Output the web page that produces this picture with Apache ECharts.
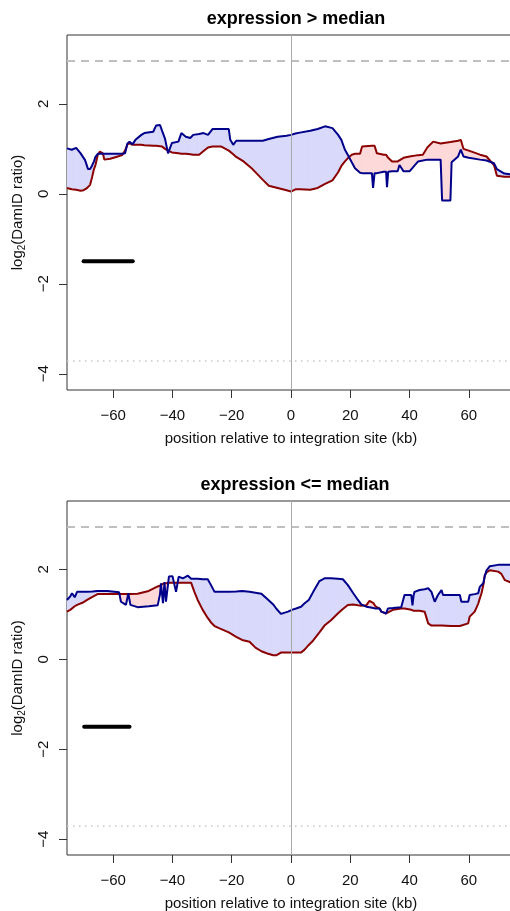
<!DOCTYPE html>
<html><head><meta charset="utf-8">
<script src="https://cdn.jsdelivr.net/npm/echarts@6/dist/echarts.min.js"></script>
<style>html,body{margin:0;padding:0;background:#fff}#c{width:510px;height:911px}</style>
</head><body><div id="c"></div>
<script>
// ---- data: top panel (expression > median) ----
const topPos = [-75.6,-74,-72.5,-71,-70,-69.5,-69,-68.5,-67.8,-67.2,-66.5,-66,-65.2,-64.5,-63.5,-63,-61,-59,-57,-56,-55.2,-54.5,-53.5,-52.5,-50.5,-49.5,-46.5,-45.5,-44.2,-43.5,-42.5,-41.5,-40.2,-38,-37,-35.5,-34,-33,-31,-29.5,-28,-26.5,-23.5,-21,-20.5,-19.5,-18.5,-16,-13,-9.5,-7.5,-4.5,-1.5,0,1.5,3,6.5,9,11.5,14,15.9,17,18.2,19.3,20.5,21.6,23.3,24,27.3,27.7,28.2,29,31.3,32.1,32.4,32.8,34.1,36,36.6,38,40,42.9,44.5,46,48,50.5,51,53.8,54.2,56.4,57.3,58.2,60,63.8,66,68.5,69.5,72,75.6];
const topBlue = [1.01,0.98,1.02,0.90,0.80,0.75,0.65,0.55,0.55,0.62,0.72,0.82,0.89,0.89,0.89,0.89,0.89,0.89,0.89,0.90,1.12,1.16,1.10,1.20,1.31,1.35,1.38,1.52,1.53,1.40,1.22,0.90,1.13,1.16,1.35,1.27,1.24,1.31,1.33,1.35,1.31,1.44,1.44,1.44,1.20,1.09,1.18,1.18,1.18,1.18,1.22,1.27,1.29,1.31,1.34,1.36,1.40,1.44,1.50,1.46,1.31,1.20,0.98,0.85,0.70,0.57,0.47,0.46,0.46,0.13,0.46,0.46,0.49,0.49,0.15,0.49,0.50,0.50,0.64,0.50,0.50,0.72,0.74,0.76,0.76,0.76,-0.15,-0.15,0.70,0.83,0.98,0.83,0.80,0.76,0.74,0.68,0.55,0.45,0.42];
const topRed = [0.13,0.10,0.09,0.07,0.08,0.10,0.12,0.15,0.20,0.35,0.55,0.64,0.87,0.94,0.90,0.76,0.78,0.82,0.86,0.96,1.10,1.12,1.09,1.09,1.09,1.08,1.07,1.07,1.06,1.05,1.00,0.96,0.92,0.90,0.89,0.89,0.88,0.87,0.87,0.95,1.03,1.05,1.05,0.96,0.93,0.88,0.82,0.72,0.55,0.31,0.18,0.13,0.08,0.05,0.10,0.10,0.09,0.13,0.22,0.30,0.48,0.62,0.72,0.80,0.87,0.89,0.89,1.05,1.07,1.07,1.07,0.90,0.87,0.87,0.85,0.80,0.72,0.72,0.72,0.80,0.83,0.86,0.87,1.03,1.16,1.12,1.14,1.15,1.15,1.18,1.20,1.00,0.96,0.87,0.83,0.64,0.40,0.38,0.38];

// ---- data: bottom panel (expression <= median) ----
const botPos = [-75.6,-74.5,-73.9,-73,-72.2,-70,-68.8,-67,-65.3,-62,-58,-57.4,-55.7,-54.9,-54.2,-51.8,-48,-45,-44.2,-43.9,-43.2,-42.7,-42.2,-41.2,-40,-38.8,-37.9,-36.5,-34.8,-33.7,-32.6,-31.5,-29.8,-28.1,-27,-25.8,-24.1,-21,-18.5,-16.5,-14,-12,-10,-8,-6,-5,-3.4,-1,0.3,1.7,3.4,4.5,6,7.5,9.6,11.3,13.5,15.8,17.5,19.2,20.9,22.6,23.7,25.4,26.5,27.8,28.5,29.9,30.5,32.1,32.7,34.4,37.2,38.3,40.6,41,41.4,41.7,43.4,45.1,46.3,47.4,48.5,49.6,50.8,51.3,54,57,57.5,59.8,60.3,62,63.2,63.7,64.3,64.9,65.4,66,67.1,69.9,71,72.2,74.5,75.6];
const botBlue = [1.32,1.40,1.47,1.38,1.50,1.50,1.50,1.51,1.52,1.52,1.49,1.28,1.21,1.47,1.21,1.16,1.18,1.20,1.45,1.69,1.25,1.72,1.28,1.84,1.85,1.50,1.84,1.80,1.86,1.79,1.79,1.79,1.78,1.78,1.65,1.50,1.50,1.50,1.51,1.52,1.50,1.48,1.46,1.34,1.22,1.13,1.01,1.06,1.10,1.13,1.17,1.24,1.32,1.50,1.74,1.80,1.80,1.79,1.78,1.65,1.48,1.32,1.22,1.17,1.16,1.14,1.13,1.13,1.06,1.02,1.13,1.14,1.16,1.43,1.43,1.20,1.43,1.50,1.54,1.56,1.58,1.50,1.28,1.43,1.54,1.43,1.43,1.43,1.28,1.28,1.43,1.45,1.47,1.61,1.65,1.69,1.85,1.98,2.07,2.10,2.10,2.10,2.10,2.10];
const botRed = [1.06,1.10,1.14,1.18,1.21,1.27,1.32,1.39,1.45,1.45,1.45,1.45,1.45,1.45,1.45,1.46,1.52,1.62,1.64,1.66,1.68,1.69,1.69,1.70,1.70,1.70,1.70,1.70,1.70,1.70,1.50,1.32,1.10,0.92,0.82,0.74,0.69,0.60,0.50,0.43,0.39,0.26,0.18,0.13,0.09,0.09,0.15,0.15,0.15,0.15,0.15,0.21,0.32,0.42,0.60,0.75,0.87,1.02,1.12,1.21,1.22,1.20,1.19,1.20,1.30,1.25,1.18,1.13,1.06,1.02,1.03,1.10,1.13,1.13,1.10,1.12,1.08,1.12,1.08,1.06,0.80,0.75,0.75,0.75,0.75,0.75,0.74,0.74,0.74,0.80,0.95,1.06,1.24,1.35,1.47,1.65,1.87,1.93,1.98,1.95,1.90,1.76,1.70,1.70];

// ---- reference lines / bars / ticks ----
const titles = ['expression > median', 'expression <= median'];
const upperRef = [2.96, 2.94];
const lowerRef = [-3.70, -3.70];
const barStart = [-70.0, -69.8];
const barEnd = [-53.4, -54.5];
const barLevel = [-1.5, -1.5];
const xTicks = [-60, -40, -20, 0, 20, 40, 60];
const yTicks = [-4, -2, 0, 2];
const xRange = [-75.6, 75.6];
const yRanges = [[-4.36, 3.53], [-4.35, 3.52]];

const FONT = "'Liberation Sans', Arial, Helvetica, sans-serif";
const BLUE = '#00008b', RED = '#8b0000';
const BLUE_FILL = '#d9d9fb', RED_FILL = '#fdd9d9';
const AX = '#333333';
const fmt = v => String(v).replace('-', '\u2212');

const grids = [
  {left: 67, top: 35, width: 448, height: 355},
  {left: 67, top: 501, width: 448, height: 354}
];

function xAxisFor(gi) {
  return {
    type: 'value', gridIndex: gi, min: xRange[0], max: xRange[1],
    axisLine: {show: false, onZero: false}, splitLine: {show: false},
    axisTick: {show: true, length: 8, customValues: xTicks, lineStyle: {color: AX}},
    axisLabel: {customValues: xTicks, formatter: fmt, fontSize: 15, color: '#111', margin: 18, fontFamily: FONT},
    name: 'position relative to integration site (kb)', nameLocation: 'middle', nameGap: 41,
    nameTextStyle: {fontSize: 15, color: '#111', fontFamily: FONT}
  };
}
function yAxisFor(gi) {
  return {
    type: 'value', gridIndex: gi, min: yRanges[gi][0], max: yRanges[gi][1],
    axisLine: {show: false, onZero: false}, splitLine: {show: false},
    axisTick: {show: true, length: 8, customValues: yTicks, lineStyle: {color: AX}},
    axisLabel: {customValues: yTicks, formatter: fmt, rotate: 90, fontSize: 15, color: '#111', margin: 16, fontFamily: FONT},
    name: '{a|log}{s|2}{a|(DamID ratio)}', nameLocation: 'middle', nameGap: 40, nameRotate: 90,
    nameTextStyle: {
      rich: {
        a: {fontSize: 15, color: '#111', fontFamily: FONT, lineHeight: 18},
        s: {fontSize: 10, color: '#111', fontFamily: FONT, lineHeight: 10, verticalAlign: 'bottom'}
      }
    }
  };
}

// fill between the two curves: blue where blue > red, pink where red > blue
function fillRenderer(blue, red, pos) {
  return function (params, api) {
    const i = params.dataIndex;
    if (i >= pos.length - 1) return null;
    const x0 = pos[i], x1 = pos[i + 1];
    const b0 = blue[i], b1 = blue[i + 1], r0 = red[i], r1 = red[i + 1];
    const d0 = b0 - r0, d1 = b1 - r1;
    const shapes = [];
    const poly = (pts, pos_) => {
      const c = pos_ ? BLUE_FILL : RED_FILL;
      shapes.push({type: 'polygon', shape: {points: pts.map(p => api.coord(p))},
        style: {fill: c, stroke: c, lineWidth: 0.6}});
    };
    if (d0 * d1 >= 0) {
      poly([[x0, b0], [x1, b1], [x1, r1], [x0, r0]], (d0 + d1) >= 0);
    } else {
      const t = d0 / (d0 - d1);
      const xc = x0 + t * (x1 - x0), yc = b0 + t * (b1 - b0);
      poly([[x0, b0], [xc, yc], [x0, r0]], d0 > 0);
      poly([[xc, yc], [x1, b1], [x1, r1]], d1 > 0);
    }
    return {type: 'group', children: shapes};
  };
}

function panelSeries(gi, pos, blue, red) {
  const common = {xAxisIndex: gi, yAxisIndex: gi, silent: true, animation: false};
  return [
    Object.assign({}, common, {
      type: 'custom', name: 'fill' + gi, z: 1, clip: true,
      data: pos.map((x, i) => [x, blue[i], red[i]]),
      encode: {x: 0, y: [1, 2]},
      renderItem: fillRenderer(blue, red, pos)
    }),
    Object.assign({}, common, {
      type: 'line', name: 'refs' + gi, data: [], z: 2, showSymbol: false,
      markLine: {
        silent: true, animation: false, symbol: ['none', 'none'], label: {show: false},
        data: [
          {yAxis: upperRef[gi], lineStyle: {type: [8, 6], color: '#bfbfbf', width: 2}},
          {yAxis: lowerRef[gi], lineStyle: {type: [1.5, 4.5], color: '#c8c8c8', width: 1.5}},
          {xAxis: 0, lineStyle: {type: 'solid', color: '#aaaaaa', width: 1}}
        ]
      }
    }),
    Object.assign({}, common, {type: 'line', name: 'red' + gi, showSymbol: false, symbol: 'none',
      data: pos.map((x, i) => [x, red[i]]), lineStyle: {color: RED, width: 2}, z: 3}),
    Object.assign({}, common, {type: 'line', name: 'blue' + gi, showSymbol: false, symbol: 'none',
      data: pos.map((x, i) => [x, blue[i]]), lineStyle: {color: BLUE, width: 2}, z: 4}),
    Object.assign({}, common, {type: 'line', name: 'bar' + gi, showSymbol: false, symbol: 'none',
      data: [[barStart[gi], barLevel[gi]], [barEnd[gi], barLevel[gi]]], lineStyle: {color: '#000', width: 4, cap: 'round'}, z: 5})
  ];
}

const chart = echarts.init(document.getElementById('c'), null, {renderer: 'canvas'});
chart.setOption({
  animation: false,
  backgroundColor: '#fff',
  title: [
    {text: titles[0], left: 291, top: 5, textAlign: 'center', textStyle: {fontSize: 18, fontWeight: 'bold', color: '#000', fontFamily: FONT}},
    {text: titles[1], left: 290, top: 471, textAlign: 'center', textStyle: {fontSize: 18, fontWeight: 'bold', color: '#000', fontFamily: FONT}}
  ],
  grid: grids.map(g => Object.assign({show: true, borderColor: AX, borderWidth: 1, backgroundColor: 'transparent', containLabel: false, outerBoundsMode: 'none'}, g)),
  xAxis: [xAxisFor(0), xAxisFor(1)],
  yAxis: [yAxisFor(0), yAxisFor(1)],
  series: [].concat(panelSeries(0, topPos, topBlue, topRed), panelSeries(1, botPos, botBlue, botRed))
});
</script></body></html>
